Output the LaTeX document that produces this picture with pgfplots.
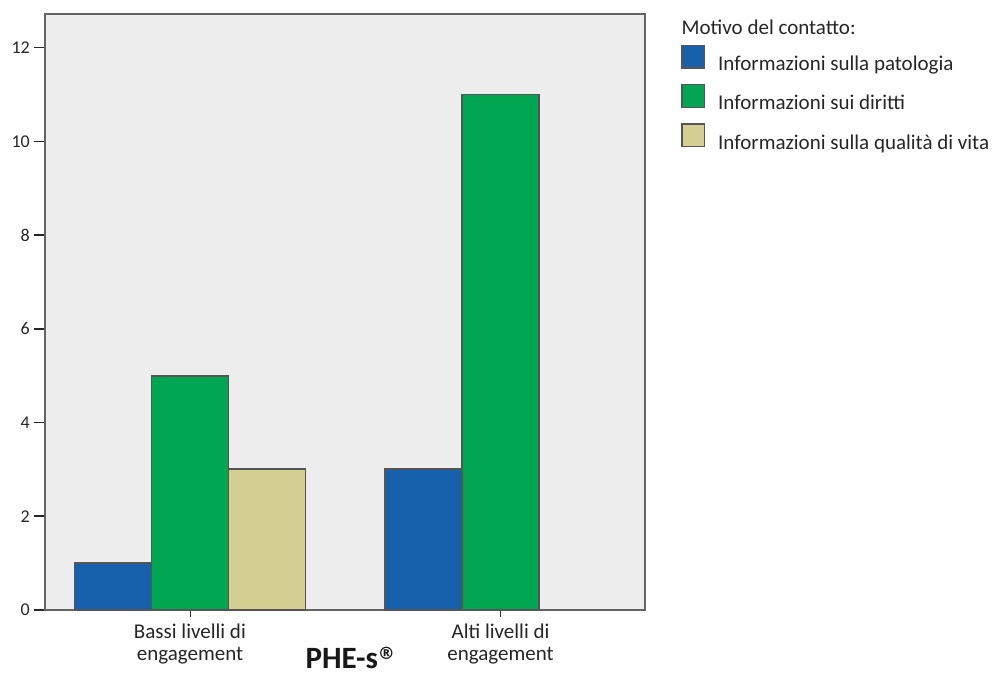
\documentclass[border=0pt]{standalone}
\usepackage{pgfplots}
\pgfplotsset{compat=1.18}
\usepackage{fontspec}
\setmainfont{Carlito}
\newfontfamily\dejavu{DejaVu Sans}
\definecolor{cblue}{RGB}{22,96,172}
\definecolor{cgreen}{RGB}{0,166,81}
\definecolor{ctan}{RGB}{211,206,146}
\definecolor{cbg}{RGB}{237,237,237}
\definecolor{cedge}{RGB}{85,85,85}
\definecolor{cframe}{RGB}{100,100,100}
\begin{document}
\begin{tikzpicture}
\path[use as bounding box] (0,0) rectangle (997pt,676pt);
\begin{axis}[
  name=ax,
  at={(45.5pt,66pt)}, anchor=south west,
  scale only axis, width=599.5pt, height=595.7pt,
  ybar=0pt, bar width=77pt,
  xmin=-0.465, xmax=1.465,
  ymin=0, ymax=12.71,
  xtick={0,1},
  xticklabels={{Bassi livelli di\\engagement},{Alti livelli di\\engagement}},
  ytick={0,2,4,6,8,10,12},
  xtick pos=bottom, ytick pos=left,
  tick align=outside,
  major tick length=11pt,
  xtick style={draw=black!80, line width=0.8pt, /pgfplots/major tick length=7pt},
  ytick style={draw=black!85, line width=1.6pt},
  xticklabel style={align=center, font=\fontsize{21}{21.5}\selectfont, text=black!85, inner sep=2pt, yshift=-1pt},
  yticklabel style={font=\fontsize{18}{18}\selectfont, text=black!85, inner sep=0pt, xshift=-4.5pt},
  /pgf/number format/assume math mode=true,
  axis background/.style={fill=cbg},
  axis line style={draw=cframe, line width=2pt},
  every axis plot/.append style={draw=cedge, line width=1.8pt},
  legend style={at={(1,1)}, anchor=north west, xshift=36pt, yshift=-30.2pt,
    draw=none, fill=none, inner sep=0pt, row sep=7.5pt, column sep=13pt,
    font=\fontsize{21}{21}\selectfont, text=black!85,
    nodes={inner sep=0pt, text height=19.5pt, text depth=6pt}},
  legend cell align=left,
  legend image code/.code={\draw[#1, line width=1.5pt] (0pt,-4.3pt) rectangle (22.5pt,18.3pt);},
  clip=false,
]
\addplot[fill=cblue] coordinates {(0,1) (1,3)};
\addlegendentry{Informazioni sulla patologia}
\addplot[fill=cgreen] coordinates {(0,5) (1,11)};
\addlegendentry{Informazioni sui diritti}
\addplot[fill=ctan] coordinates {(0,3)};
\addlegendentry{Informazioni sulla qualità di vita}
\end{axis}
\node[anchor=base west, inner sep=0pt, font=\fontsize{21}{21}\selectfont, text=black!85]
  at ([xshift=36.5pt, yshift=-20.4pt]ax.north east) {Motivo del contatto:};
\node[anchor=base, inner sep=0pt, text depth=0pt, font=\bfseries\fontsize{31}{31}\selectfont, text=black!90]
  at ([xshift=5pt, yshift=-59pt]ax.south) {PHE-s\raisebox{9pt}{\dejavu\bfseries\fontsize{17}{17}\selectfont ®}};
\end{tikzpicture}
\end{document}
